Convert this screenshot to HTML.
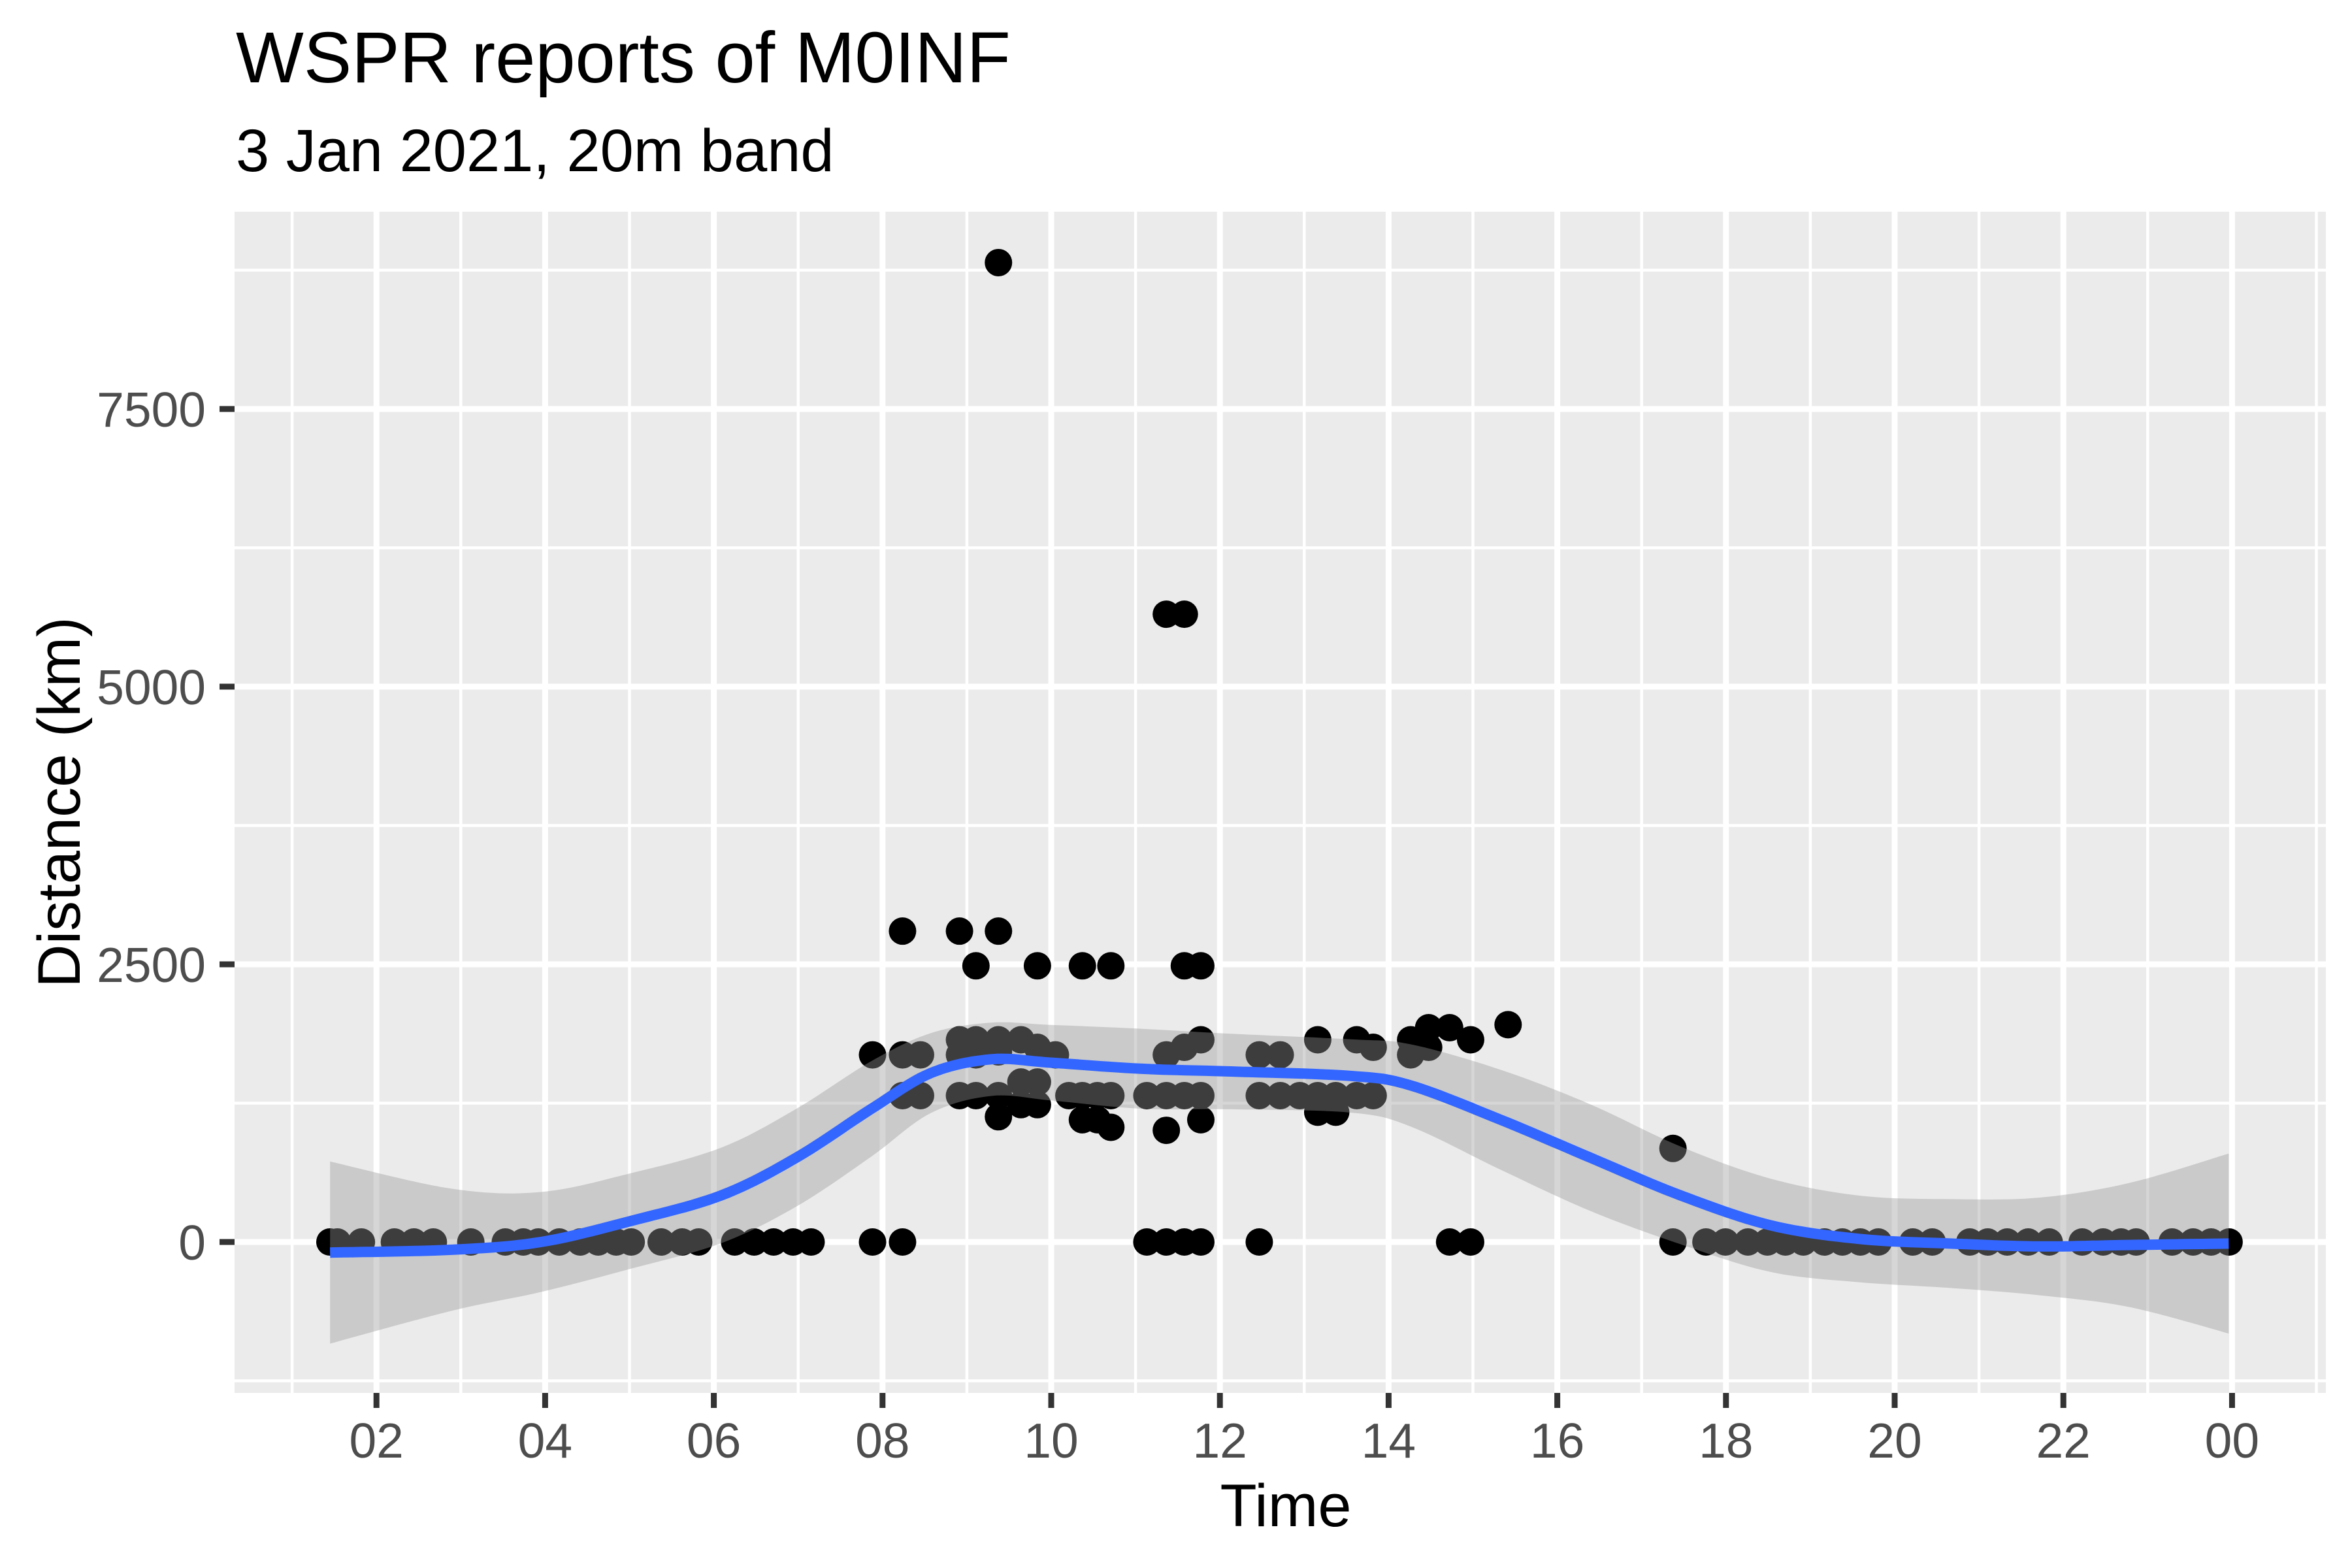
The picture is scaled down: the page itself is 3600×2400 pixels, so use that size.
<!DOCTYPE html>
<html><head><meta charset="utf-8"><style>
html,body{margin:0;padding:0;background:#fff;}
svg{display:block;font-family:"Liberation Sans",Arial,sans-serif;}
</style></head><body>
<svg id="chart" width="3600" height="2400" viewBox="0 0 3600 2400" xmlns="http://www.w3.org/2000/svg">
<rect x="0" y="0" width="3600" height="2400" fill="#fff"/>
<text x="361" y="126" font-size="110" fill="#000">WSPR reports of M0INF</text>
<text x="361" y="262" font-size="92" fill="#000">3 Jan 2021, 20m band</text>
<rect x="359" y="324" width="3201" height="1808" fill="#EBEBEB"/>
<g id="grid"></g>
<g id="points"></g>
<g id="band"></g>
<g id="line"></g>
<g id="axes"></g>
<text x="1968" y="2336" font-size="92" text-anchor="middle" fill="#000">Time</text>
<text transform="translate(122,1228) rotate(-90)" font-size="92" text-anchor="middle" fill="#000">Distance (km)</text>
</svg>
<script>
const zeroHours = [219,224,240,262,275,288,313,336,348,358,372,386,398,410,420,440,454,465,489,502,515,528,540,581,601,764,777,789,800,839,966,980,1115,1137,1150,1165,1178,1190,1202,1216,1228,1240,1252,1275,1288,1313,1325,1338,1352,1366,1388,1402,1414,1424,1448,1462,1474,1486].map(x=>(x-137.5)/56.27);
const highHours = [665,777,789,601,639,665,650,691,721,740,789,800,581,601,613,639,650,665,680,691,639,650,665,601,613,639,650,665,680,691,680,691,665,712,721,731,740,721,731,740,703,764,777,789,800,777,789,800,777,800,839,853,839,853,866,878,890,878,878,890,904,915,915,904,940,952,966,980,940,952,1005,1115].map(x=>(x-137.5)/56.27);
const highKm = [177,410,410,620,620,620,643,643,643,643,643,643,702,702,702,692,692,692,692,697,702,702,700,729,729,729,729,729,720,720,735,735,743,729,729,729,729,745,745,750,702,729,729,729,729,702,697,692,752,745,702,702,729,729,729,729,729,692,740,740,692,697,729,729,692,684,684,692,702,697,682,764].map(y=>(826-y)/0.0736);
const fitHours = [1.45,2.89,3.95,5.02,6.09,6.98,7.86,8.57,9.29,9.99,11.06,12.13,13.55,14.26,15.33,16.39,17.46,18.53,19.59,20.66,21.72,22.79,23.96];
const fitKm = [-95,-70,0,190,420,760,1195,1520,1645,1615,1560,1535,1495,1410,1100,760,420,150,27,-14,-40,-27,-14];
const seKm = [820,550,450,430,430,440,430,360,330,340,360,340,330,370,450,480,440,420,390,400,440,560,810];
const xTickLabels = ["02","04","06","08","10","12","14","16","18","20","22","00"];
const xTickHours = [2,4,6,8,10,12,14,16,18,20,22,24];
const yTicks = [0,2500,5000,7500];

const NS="http://www.w3.org/2000/svg";
const X=h=>318+h*129.1;
const Y=v=>1901-v*0.17;
const P={l:359,r:3560,t:324,b:2132};
function mk(tag,attrs,parent){const e=document.createElementNS(NS,tag);for(const k in attrs)e.setAttribute(k,attrs[k]);parent.appendChild(e);return e;}
const grid=document.getElementById('grid');
for(let h=1;h<=25;h+=2){const x=X(h);if(x<P.l||x>P.r)continue;
 const e=mk('line',{x1:x,x2:x,y1:P.t,y2:P.b,stroke:'#fff','stroke-width':4.5},grid);
 
 }
for(const v of [-1250,1250,3750,6250,8750]){const y=Y(v);
 const e=mk('line',{x1:P.l,x2:P.r,y1:y,y2:y,stroke:'#fff','stroke-width':4.5},grid);
 
 }
for(const h of xTickHours){const x=X(h);
 const e=mk('line',{x1:x,x2:x,y1:P.t,y2:P.b,stroke:'#fff','stroke-width':9},grid);
 
 }
for(const v of yTicks){const y=Y(v);
 const e=mk('line',{x1:P.l,x2:P.r,y1:y,y2:y,stroke:'#fff','stroke-width':9},grid);
 
 }
const pts=document.getElementById('points');
zeroHours.forEach(h=>{const c=mk('circle',{cx:X(h),cy:Y(0),r:21,fill:'#000'},pts);
 
 });
highHours.forEach((h,i)=>{const c=mk('circle',{cx:X(h),cy:Y(highKm[i]),r:21,fill:'#000'},pts);
 
 });
function interp(xs,ys,n){const out=[];for(let i=0;i<xs.length-1;i++){
 const x0=xs[Math.max(i-1,0)],x1=xs[i],x2=xs[i+1],x3=xs[Math.min(i+2,xs.length-1)];
 const y0=ys[Math.max(i-1,0)],y1=ys[i],y2=ys[i+1],y3=ys[Math.min(i+2,ys.length-1)];
 for(let k=0;k<n;k++){const t=k/n,t2=t*t,t3=t2*t;
  const f=(a,b,c,d)=>0.5*((2*b)+(-a+c)*t+(2*a-5*b+4*c-d)*t2+(-a+3*b-3*c+d)*t3);
  out.push([f(x0,x1,x2,x3),f(y0,y1,y2,y3)]);}}
 out.push([xs[xs.length-1],ys[ys.length-1]]);return out;}
const up=fitKm.map((v,i)=>v+seKm[i]),lo=fitKm.map((v,i)=>v-seKm[i]);
const U=interp(fitHours,up,12),L=interp(fitHours,lo,12).reverse(),M=interp(fitHours,fitKm,12);
const bandD='M'+U.map(p=>X(p[0]).toFixed(1)+','+Y(p[1]).toFixed(1)).join('L')+'L'+L.map(p=>X(p[0]).toFixed(1)+','+Y(p[1]).toFixed(1)).join('L')+'Z';
const b=mk('path',{d:bandD,fill:'#999999','fill-opacity':0.4},document.getElementById('band'));


const l=mk('path',{d:'M'+M.map(p=>X(p[0]).toFixed(1)+','+Y(p[1]).toFixed(1)).join('L'),fill:'none',stroke:'#3366FF','stroke-width':16,'stroke-linejoin':'round'},document.getElementById('line'));


const ax=document.getElementById('axes');
xTickHours.forEach((h,i)=>{const x=X(h);
 const t=mk('line',{x1:x,x2:x,y1:P.b,y2:P.b+23,stroke:'#333','stroke-width':9},ax);
 
 
 const tx=mk('text',{x:x,y:2231,'font-size':75,'text-anchor':'middle',fill:'#4D4D4D'},ax);
 tx.textContent=xTickLabels[i];
 
 });
yTicks.forEach(v=>{const y=Y(v);
 const t=mk('line',{x1:P.l-23,x2:P.l,y1:y,y2:y,stroke:'#333','stroke-width':9},ax);
 
 
 const tx=mk('text',{x:315,y:y+27,'font-size':75,'text-anchor':'end',fill:'#4D4D4D'},ax);
 tx.textContent=String(v);
 
 });
</script>
</body></html>
